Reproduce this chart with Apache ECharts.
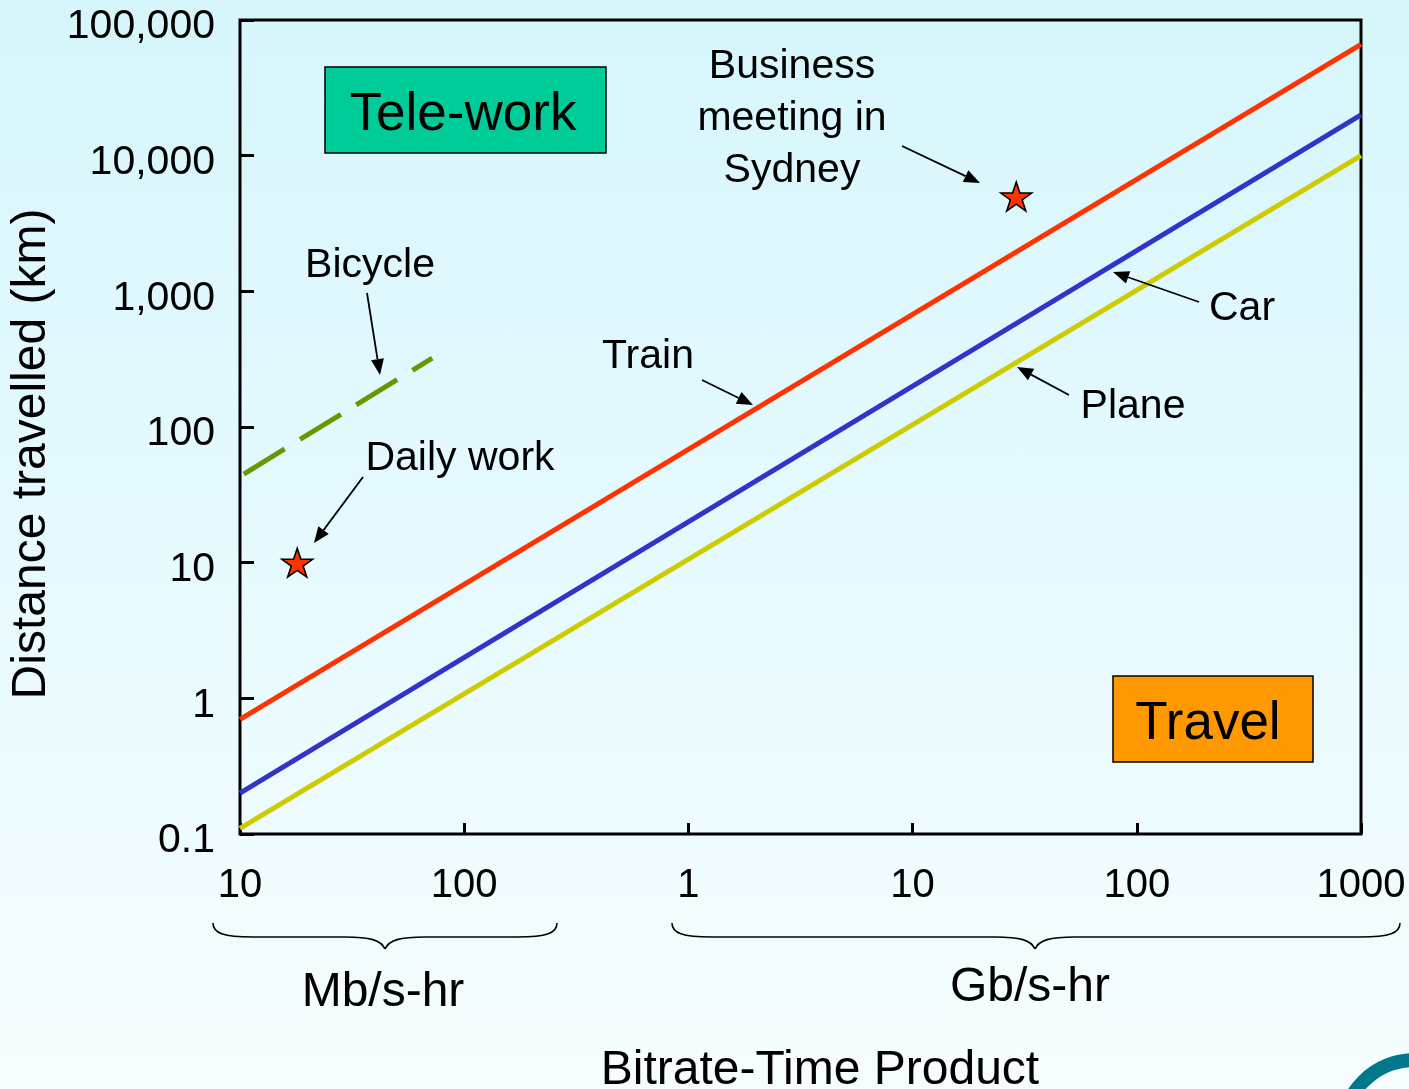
<!DOCTYPE html>
<html><head><meta charset="utf-8">
<script src="https://cdn.jsdelivr.net/npm/echarts@6/dist/echarts.min.js"></script>
<style>
html,body{margin:0;padding:0;}
#c{width:1409px;height:1089px;background:linear-gradient(to bottom,#D6F6FC 0%,#E6FAFE 50%,#F6FDFE 100%);}
</style>
</head><body><div id="c"></div>
<script>
// ---- data ----
const yTickLabels = ['0.1', '1', '10', '100', '1,000', '10,000', '100,000'];
const xTickLabels = ['10', '100', '1', '10', '100', '1000']; // 10 Mb .. 1000 Gb
const lineBitrateMb = [10, 1000000];          // bitrate-time product, Mb/s-hr
const trainKm = [0.7, 66000];
const carKm = [0.2, 20000];
const planeKm = [0.11, 10000];
const bicycleMb = [10.4, 72];
const bicycleKm = [45, 322];
const eventNames = ['Daily work', 'Business meeting in Sydney'];
const eventMb = [18, 29000];
const eventKm = [10, 5000];

const FONT = "'Liberation Sans', Arial, Helvetica, sans-serif";
const zip = (xs, ys) => xs.map((x, i) => [x, ys[i]]);

const STAR = 'path://M50,0 L72.45,69.1 L145.1,69.1 L86.3,111.8 L108.8,180.9 L50,138.2 L-8.8,180.9 L13.7,111.8 L-45.1,69.1 L27.55,69.1 Z';

function arrow(x1, y1, x2, y2) {
  const dx = x2 - x1, dy = y2 - y1, L = Math.hypot(dx, dy), ux = dx / L, uy = dy / L;
  const hl = 16, hw = 6.5;
  const bx = x2 - ux * hl, by = y2 - uy * hl;
  return [
    {type: 'line', z: 20, shape: {x1: x1, y1: y1, x2: bx, y2: by}, style: {stroke: '#000', lineWidth: 1.8}},
    {type: 'polygon', z: 20, shape: {points: [[x2, y2], [bx - uy * hw, by + ux * hw], [bx + uy * hw, by - ux * hw]]}, style: {fill: '#000'}}
  ];
}
function txt(text, x, y, size, extra) {
  return Object.assign({type: 'text', z: 20, x: x, y: y + 3,
    style: {text: text, font: size + 'px ' + FONT, fill: '#000', align: 'center', verticalAlign: 'middle', lineHeight: 52}}, extra || {});
}
function brace(x0, x1, xm) {
  const t = 923, b = 937, c = 949;
  const st = {stroke: '#000', lineWidth: 1.6, fill: null};
  const bz = (a, b2, c1, c2) => ({type: 'bezierCurve', z: 20, shape: {x1: a[0], y1: a[1], x2: b2[0], y2: b2[1], cpx1: c1[0], cpy1: c1[1], cpx2: c2[0], cpy2: c2[1]}, style: st});
  const ln = (a, b2) => ({type: 'line', z: 20, shape: {x1: a[0], y1: a[1], x2: b2[0], y2: b2[1]}, style: st});
  return [
    bz([x0, t], [x0 + 40, b], [x0, t + 10], [x0 + 10, b]),
    ln([x0 + 40, b], [xm - 40, b]),
    bz([xm - 40, b], [xm, c], [xm - 15, b], [xm - 4, b + 3]),
    bz([xm, c], [xm + 40, b], [xm + 4, b + 3], [xm + 15, b]),
    ln([xm + 40, b], [x1 - 40, b]),
    bz([x1 - 40, b], [x1, t], [x1 - 10, b], [x1, t + 10])
  ];
}

const graphics = [
  // Tele-work / Travel boxes
  {type: 'rect', z: 15, shape: {x: 325, y: 67, width: 281, height: 86}, style: {fill: '#00CC99', stroke: '#000', lineWidth: 1.5}},
  txt('Tele-work', 463, 112, 53),
  {type: 'rect', z: 15, shape: {x: 1113, y: 676, width: 200, height: 86}, style: {fill: '#FF9900', stroke: '#000', lineWidth: 1.5}},
  txt('Travel', 1208, 721, 53),
  // annotations
  txt('Business\nmeeting in\nSydney', 792, 116, 41),
  txt('Bicycle', 370, 263, 41),
  txt('Daily work', 460, 456, 41),
  txt('Train', 648, 354, 41),
  txt('Car', 1242, 306, 41),
  txt('Plane', 1133, 404, 41),
  ...arrow(902, 146, 980, 183),
  ...arrow(367, 293, 380, 375),
  ...arrow(363, 477, 314, 543),
  ...arrow(702, 380, 753, 405),
  ...arrow(1199, 302, 1113, 272),
  ...arrow(1069, 395, 1017, 367),
  // unit braces and labels
  ...brace(213, 557, 385),
  ...brace(672, 1400, 1035),
  txt('Mb/s-hr', 383, 990, 48),
  txt('Gb/s-hr', 1030, 985, 48),
  txt('Bitrate-Time Product', 820, 1068, 48),
  // corner logo fragment
  {type: 'arc', z: 5, shape: {cx: 1415, cy: 1133, r: 73, startAngle: Math.PI, endAngle: Math.PI * 2}, style: {stroke: '#00778A', lineWidth: 14, fill: null}}
];

const chart = echarts.init(document.getElementById('c'), null, {renderer: 'canvas'});
chart.setOption({
  backgroundColor: 'transparent',
  animation: false,
  textStyle: {fontFamily: FONT},
  grid: {left: 240, right: 48, top: 20, bottom: 255, containLabel: false, outerBoundsMode: 'none',
         show: true, borderColor: '#000', borderWidth: 3, backgroundColor: 'transparent'},
  xAxis: {
    type: 'log', logBase: 10, min: 10, max: 1000000, splitNumber: 5,
    axisLine: {show: false},
    axisTick: {show: true, inside: true, length: 11, lineStyle: {color: '#000', width: 3}},
    splitLine: {show: false},
    axisLabel: {margin: 32, fontSize: 40, color: '#000', fontFamily: FONT, showMinLabel: true, showMaxLabel: true,
      formatter: v => xTickLabels[Math.round(Math.log10(v)) - 1]}
  },
  yAxis: {
    type: 'log', logBase: 10, min: 0.1, max: 100000, splitNumber: 6,
    name: 'Distance travelled (km)', nameLocation: 'middle', nameRotate: 90, nameGap: 178,
    nameTextStyle: {fontSize: 48, color: '#000', fontFamily: FONT, padding: [0, 54, 0, 0]},
    axisLine: {show: false},
    axisTick: {show: true, inside: true, length: 14, lineStyle: {color: '#000', width: 3}},
    splitLine: {show: false},
    axisLabel: {margin: 25, color: '#000', fontFamily: FONT, showMinLabel: true, showMaxLabel: true,
      formatter: v => '{v|' + yTickLabels[Math.round(Math.log10(v)) + 1] + '}',
      rich: {v: {fontSize: 41, color: '#000', fontFamily: FONT, lineHeight: 44, padding: [14, 0, 0, 0]}}}
  },
  series: [
    {name: 'Train', type: 'line', data: zip(lineBitrateMb, trainKm), showSymbol: false, lineStyle: {color: '#FF3300', width: 5}, z: 4},
    {name: 'Car', type: 'line', data: zip(lineBitrateMb, carKm), showSymbol: false, lineStyle: {color: '#3333CC', width: 5}, z: 4},
    {name: 'Plane', type: 'line', data: zip(lineBitrateMb, planeKm), showSymbol: false, lineStyle: {color: '#CCCC00', width: 5}, z: 4},
    {name: 'Bicycle', type: 'line', data: zip(bicycleMb, bicycleKm), showSymbol: false,
      lineStyle: {color: '#669900', width: 5, type: [48, 18], cap: 'butt'}, z: 4},
    {name: 'Events', type: 'scatter', data: eventMb.map((x, i) => ({name: eventNames[i], value: [x, eventKm[i]]})),
      symbol: STAR, symbolSize: [31, 29], itemStyle: {color: '#FF3300', borderColor: '#000', borderWidth: 1.5, opacity: 1}, z: 6}
  ],
  graphic: graphics
});
</script>
</body></html>
